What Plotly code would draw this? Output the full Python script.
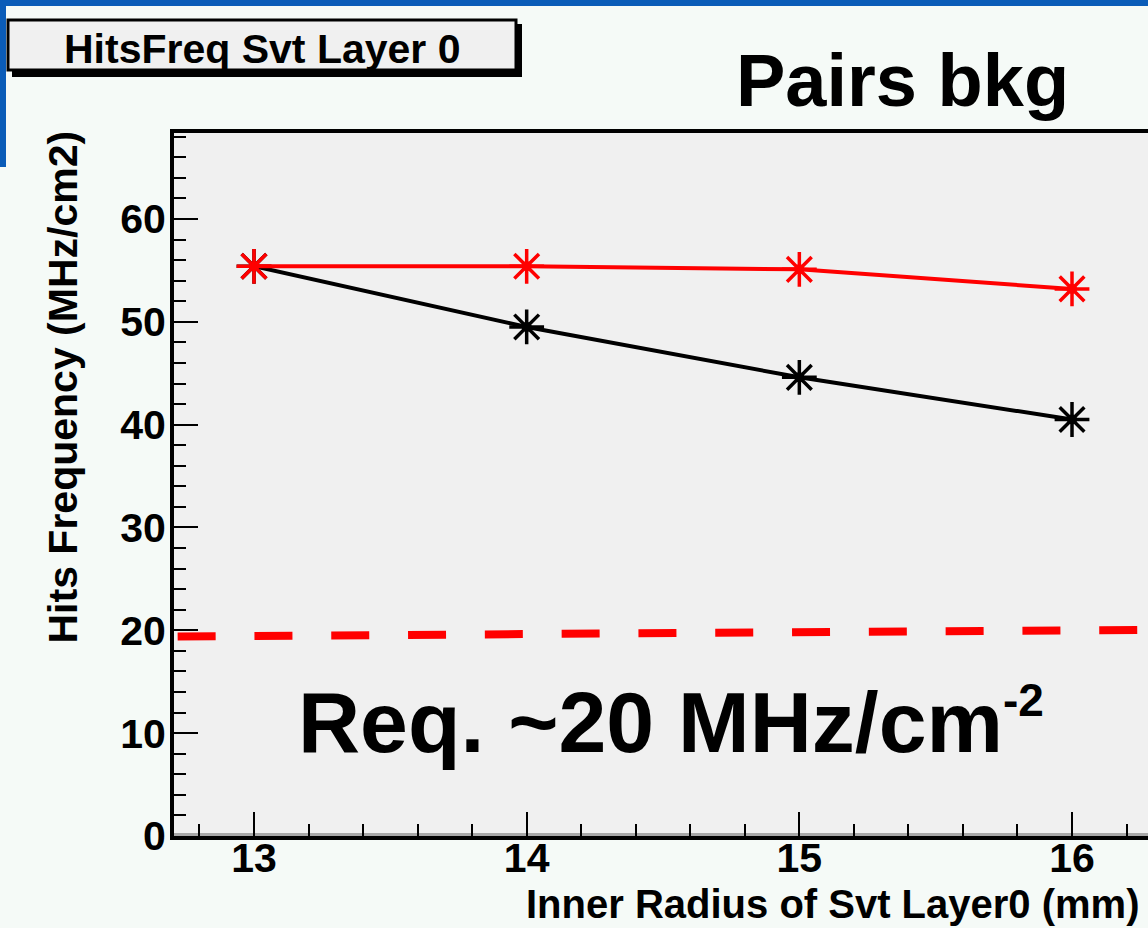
import plotly.graph_objects as go

# Hit frequency in SVT layer 0 versus its inner radius (pairs background)
radius_mm = [13, 14, 15, 16]
freq_red = [55.4, 55.4, 55.1, 53.2]
freq_black = [55.4, 49.5, 44.6, 40.5]

# requirement line (~20 MHz/cm2)
req_x = [12.72, 16.28]
req_y = [19.4, 20.05]

x_tick_vals = [13, 14, 15, 16]
y_tick_vals = [0, 10, 20, 30, 40, 50, 60]

title_text = "HitsFreq Svt Layer 0"
x_title = "Inner Radius of Svt Layer0 (mm)"
y_title = "Hits Frequency (MHz/cm2)"

W, H = 1148, 928
L, R, T, B = 174, 0, 133, 92
PW = W - L - R
PH = H - T - B


def px(x):
    return (x - L) / PW


def py(y):
    return (H - B - y) / PH


AXFONT = dict(family="Liberation Sans", size=41, color="black", weight="bold")

fig = go.Figure()

fig.add_trace(go.Scatter(
    x=req_x, y=req_y, mode="lines",
    line=dict(color="#ff0000", width=8, dash="38px,38.8px"),
    hoverinfo="skip", showlegend=False,
))

for ys, col in ((freq_black, "#000000"), (freq_red, "#ff0000")):
    fig.add_trace(go.Scatter(
        x=radius_mm, y=ys, mode="lines",
        line=dict(color=col, width=4), showlegend=False,
    ))
    fig.add_trace(go.Scatter(
        x=radius_mm, y=ys, mode="markers",
        marker=dict(symbol="asterisk-open", size=29, color=col,
                    line=dict(color=col, width=3.5)),
        showlegend=False,
    ))
    fig.add_trace(go.Scatter(
        x=radius_mm, y=ys, mode="markers",
        marker=dict(symbol="circle", size=10, color=col, line=dict(width=0)),
        showlegend=False,
    ))

shapes = [
    # frame shadow along the bottom axis
    dict(type="rect", xref="paper", yref="paper", x0=0, x1=1, y0=0, y1=3 / PH,
         fillcolor="#a8a8a8", line=dict(width=0), layer="below"),
    # blue window border
    dict(type="rect", xref="paper", yref="paper", x0=px(0), x1=px(W), y0=py(6), y1=py(0),
         fillcolor="#0a5cb8", line=dict(width=0), layer="above"),
    dict(type="rect", xref="paper", yref="paper", x0=px(0), x1=px(6), y0=py(167), y1=py(0),
         fillcolor="#0a5cb8", line=dict(width=0), layer="above"),
    # title box with shadow
    dict(type="rect", xref="paper", yref="paper", x0=px(12), x1=px(522), y0=py(77), y1=py(24),
         fillcolor="#000000", line=dict(width=0), layer="above"),
    dict(type="rect", xref="paper", yref="paper", x0=px(8), x1=px(516), y0=py(70), y1=py(20),
         fillcolor="#f0f0f0", line=dict(color="#000000", width=3), layer="above"),
]

annotations = [
    dict(text=title_text, xref="paper", yref="paper", x=px(262), y=py(49),
         xanchor="center", yanchor="middle", showarrow=False,
         font=dict(family="Liberation Sans", size=41, color="black", weight="bold")),
    dict(text="Pairs bkg", xref="paper", yref="paper", x=px(734), y=py(81),
         xanchor="left", yanchor="middle", showarrow=False,
         font=dict(family="Liberation Sans", size=74, color="black", weight="bold")),
    dict(text="Req. ~20 MHz/cm<sup><span style='font-size:46px'>-2</span></sup>",
         xref="paper", yref="paper", x=px(296), y=py(722),
         xanchor="left", yanchor="middle", showarrow=False,
         font=dict(family="Liberation Sans", size=86, color="black", weight="bold")),
    dict(text=x_title, xref="paper", yref="paper", x=px(1141), y=py(904),
         xanchor="right", yanchor="middle", showarrow=False,
         font=dict(family="Liberation Sans", size=40, color="black", weight="bold")),
    dict(text=y_title, xref="paper", yref="paper", x=px(62), y=py(129),
         xanchor="center", yanchor="top", textangle=-90, showarrow=False, font=AXFONT),
]

fig.update_layout(
    width=W, height=H,
    margin=dict(l=L, r=R, t=T, b=B, pad=0),
    paper_bgcolor="#f5faf7",
    plot_bgcolor="#f0f0f0",
    shapes=shapes,
    annotations=annotations,
    showlegend=False,
    xaxis=dict(
        range=[12.7066, 16.2787], tickmode="array", tickvals=x_tick_vals,
        ticks="inside", ticklen=24, tickwidth=2, tickcolor="black",
        minor=dict(dtick=0.2, tick0=13, ticks="inside", ticklen=12, tickwidth=2, tickcolor="black"),
        showline=True, linewidth=4, linecolor="black", mirror=True,
        showgrid=False, zeroline=False, tickfont=AXFONT, ticklabelstandoff=-17,
    ),
    yaxis=dict(
        range=[0, 68.36], tickmode="array", tickvals=y_tick_vals,
        ticks="inside", ticklen=24, tickwidth=2, tickcolor="black",
        minor=dict(dtick=2, tick0=0, ticks="inside", ticklen=12, tickwidth=2, tickcolor="black"),
        showline=True, linewidth=4, linecolor="black",
        showgrid=False, zeroline=False, tickfont=AXFONT, ticklabelstandoff=-4,
    ),
)

fig.write_html("out.html")
